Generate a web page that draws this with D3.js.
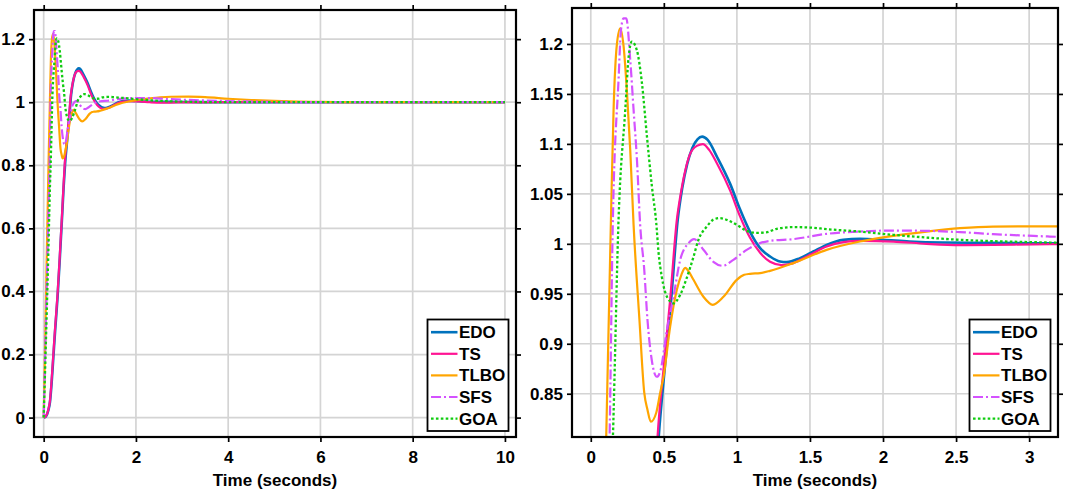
<!DOCTYPE html>
<html>
<head>
<meta charset="utf-8">
<script src="https://cdn.jsdelivr.net/npm/d3@7"></script>
<style>
body { margin: 0; background: #fff; }
text { font-family: "Liberation Sans", Arial, Helvetica, sans-serif; font-weight: bold; fill: #000; }
</style>
</head>
<body>
<svg id="chart" width="1065" height="492"></svg>
<script>
// Step responses, [time (s), output]
const edoData = [[0,0],[0.05,0.004],[0.1,0.023],[0.137,0.05],[0.17,0.105],[0.209,0.19],[0.25,0.28],[0.3,0.38],[0.35,0.505],[0.4,0.64],[0.43,0.725],[0.465,0.807],[0.508,0.878],[0.55,0.944],[0.595,1.024],[0.625,1.055],[0.66,1.08],[0.695,1.096],[0.73,1.1045],[0.762,1.1073],[0.8,1.104],[0.863,1.0873],[0.954,1.06],[1.02,1.035],[1.09,1.012],[1.159,0.9957],[1.227,0.9873],[1.295,0.9823],[1.341,0.9817],[1.432,0.9857],[1.523,0.9923],[1.614,0.999],[1.728,1.004],[1.842,1.005],[2.0,1.004],[2.18,1.0023],[2.41,1.0013],[2.75,1.001],[3.14,1.0005],[4,1],[6,1],[8,1],[10,1]];
const tsData = [[0,0],[0.05,0.005],[0.1,0.025],[0.137,0.055],[0.17,0.115],[0.209,0.2],[0.25,0.29],[0.3,0.39],[0.35,0.515],[0.4,0.65],[0.43,0.735],[0.457,0.807],[0.5,0.878],[0.543,0.944],[0.589,1.024],[0.612,1.047],[0.646,1.073],[0.68,1.09],[0.726,1.098],[0.767,1.0997],[0.81,1.094],[0.863,1.0807],[0.954,1.0533],[1.02,1.028],[1.09,1.006],[1.159,0.991],[1.227,0.982],[1.306,0.9787],[1.386,0.9807],[1.5,0.989],[1.614,0.9973],[1.728,1.0017],[1.842,1.003],[2.07,1.0023],[2.298,1.0],[2.526,0.9987],[2.753,0.999],[3.14,0.9997],[4,1],[6,1],[8,1],[10,1]];
const tlboData = [[0,0],[0.03,0.22],[0.06,0.46],[0.085,0.65],[0.106,0.809],[0.138,1.024],[0.156,1.134],[0.179,1.2],[0.202,1.2157],[0.225,1.197],[0.248,1.151],[0.27,1.094],[0.293,1.019],[0.333,0.924],[0.366,0.851],[0.388,0.834],[0.411,0.822],[0.448,0.831],[0.475,0.851],[0.498,0.867],[0.543,0.917],[0.589,0.954],[0.62,0.969],[0.646,0.976],[0.672,0.972],[0.703,0.964],[0.771,0.947],[0.835,0.939],[0.908,0.947],[0.999,0.964],[1.05,0.969],[1.09,0.97],[1.159,0.9707],[1.227,0.973],[1.386,0.9807],[1.614,0.994],[1.842,1.0023],[2.07,1.008],[2.298,1.0123],[2.526,1.0157],[2.753,1.0173],[3.14,1.0175],[3.5,1.016],[4,1.011],[4.5,1.007],[5,1.004],[5.5,1.002],[6,1.001],[7,1],[8,1],[10,1]];
const sfsData = [[0,0],[0.03,0.19],[0.06,0.38],[0.1,0.63],[0.129,0.809],[0.15,1.015],[0.191,1.167],[0.206,1.213],[0.224,1.2257],[0.243,1.2257],[0.27,1.184],[0.293,1.134],[0.316,1.084],[0.338,1.019],[0.366,0.974],[0.388,0.924],[0.417,0.884],[0.452,0.867],[0.475,0.872],[0.521,0.914],[0.566,0.947],[0.612,0.984],[0.669,1.0007],[0.707,1.0047],[0.771,0.994],[0.839,0.982],[0.903,0.978],[0.976,0.984],[1.067,0.994],[1.158,1.0007],[1.227,1.003],[1.386,1.0047],[1.614,1.01],[1.842,1.0123],[2.07,1.0133],[2.298,1.013],[2.526,1.0117],[2.753,1.0097],[3.14,1.0073],[3.5,1.0055],[4,1.0035],[5,1.001],[6,1],[8,1],[10,1]];
const goaData = [[0,0],[0.05,0.25],[0.1,0.52],[0.137,0.74],[0.152,0.809],[0.19,1.024],[0.236,1.134],[0.259,1.187],[0.281,1.2023],[0.315,1.194],[0.35,1.161],[0.384,1.108],[0.418,1.058],[0.448,1.021],[0.464,0.991],[0.486,0.967],[0.525,0.946],[0.566,0.9405],[0.612,0.949],[0.657,0.966],[0.703,0.987],[0.737,1.004],[0.794,1.0173],[0.84,1.0243],[0.881,1.0257],[0.94,1.0235],[0.999,1.019],[1.067,1.013],[1.135,1.011],[1.2,1.0115],[1.272,1.015],[1.386,1.0167],[1.5,1.0163],[1.614,1.0147],[1.842,1.0123],[2.07,1.009],[2.298,1.0063],[2.526,1.004],[2.753,1.0027],[3.14,1.0013],[4,1],[6,1],[8,1],[10,1]];

const seriesNames = ['EDO', 'TS', 'TLBO', 'SFS', 'GOA'];
const seriesData = [edoData, tsData, tlboData, sfsData, goaData];
const seriesColors = ['#0072bd', '#ff1493', '#ffa500', '#d452ff', '#10cc10'];
const seriesDash = [null, null, null, '10,3,2,3', '2.6,2.3'];
const seriesWidth = [2.6, 2.2, 2.2, 2.2, 2.3];

// Tick values
const leftXTicks = [0, 2, 4, 6, 8, 10];
const leftYTicks = [0, 0.2, 0.4, 0.6, 0.8, 1, 1.2];
const rightXTicks = [0, 0.5, 1, 1.5, 2, 2.5, 3];
const rightYTicks = [0.85, 0.9, 0.95, 1, 1.05, 1.1, 1.15, 1.2];

const xLabel = 'Time (seconds)';

const panels = [
    { left: 34, right: 516, top: 10, bottom: 437, xDomain: [-0.21, 10.24], yDomain: [-0.0615, 1.2924], xTicks: leftXTicks, yTicks: leftYTicks },
    { left: 572, right: 1058, top: 8, bottom: 437, xDomain: [-0.1285, 3.1975], yDomain: [0.8067, 1.236], xTicks: rightXTicks, yTicks: rightYTicks }
];

const svg = d3.select('#chart');

panels.forEach((p, i) => drawPanel(p, i));

function drawPanel(p, idx) {
    const x = d3.scaleLinear().domain(p.xDomain).range([p.left, p.right]);
    const y = d3.scaleLinear().domain(p.yDomain).range([p.bottom, p.top]);
    const g = svg.append('g');

    // clip for the curves
    const clipId = 'clip' + idx;
    svg.append('clipPath').attr('id', clipId)
        .append('rect')
        .attr('x', p.left).attr('y', p.top)
        .attr('width', p.right - p.left).attr('height', p.bottom - p.top);

    // grid
    g.selectAll('.vgrid').data(p.xTicks).enter().append('line')
        .attr('x1', d => x(d)).attr('x2', d => x(d))
        .attr('y1', p.top).attr('y2', p.bottom)
        .attr('stroke', '#d4d4d4').attr('stroke-width', 1.7);
    g.selectAll('.hgrid').data(p.yTicks).enter().append('line')
        .attr('x1', p.left).attr('x2', p.right)
        .attr('y1', d => y(d)).attr('y2', d => y(d))
        .attr('stroke', '#d4d4d4').attr('stroke-width', 1.7);

    // curves
    const line = d3.line().x(d => x(d[0])).y(d => y(d[1])).curve(d3.curveMonotoneX);
    const lines = g.append('g').attr('clip-path', `url(#${clipId})`);
    seriesData.forEach((data, k) => {
        lines.append('path')
            .datum(data)
            .attr('d', line)
            .attr('fill', 'none')
            .attr('stroke', seriesColors[k])
            .attr('stroke-width', seriesWidth[k])
            .attr('stroke-linejoin', 'round')
            .attr('stroke-dasharray', seriesDash[k]);
    });

    // axes, ticks pointing outward on all four sides
    const fmt = d => String(d);
    const bottomAxis = g.append('g').attr('transform', `translate(0,${p.bottom})`)
        .call(d3.axisBottom(x).tickValues(p.xTicks).tickFormat(fmt).tickSize(5).tickSizeOuter(0).tickPadding(9));
    const leftAxis = g.append('g').attr('transform', `translate(${p.left},0)`)
        .call(d3.axisLeft(y).tickValues(p.yTicks).tickFormat(fmt).tickSize(5).tickSizeOuter(0).tickPadding(4));
    const topAxis = g.append('g').attr('transform', `translate(0,${p.top})`)
        .call(d3.axisTop(x).tickValues(p.xTicks).tickFormat('').tickSize(5).tickSizeOuter(0));
    const rightAxis = g.append('g').attr('transform', `translate(${p.right},0)`)
        .call(d3.axisRight(y).tickValues(p.yTicks).tickFormat('').tickSize(5).tickSizeOuter(0));

    [bottomAxis, leftAxis, topAxis, rightAxis].forEach(a => {
        a.select('.domain').remove();
        a.selectAll('line').attr('stroke', '#000').attr('stroke-width', 1.7);
        a.selectAll('text')
            .attr('fill', '#000')
            .style('font-family', '"Liberation Sans", Arial, sans-serif')
            .style('font-weight', 'bold')
            .style('font-size', '17px');
    });

    // box
    g.append('rect')
        .attr('x', p.left).attr('y', p.top)
        .attr('width', p.right - p.left).attr('height', p.bottom - p.top)
        .attr('fill', 'none').attr('stroke', '#000').attr('stroke-width', 2.2);

    // x label
    g.append('text')
        .attr('x', (p.left + p.right) / 2)
        .attr('y', 486)
        .attr('text-anchor', 'middle')
        .style('font-size', '17px')
        .text(xLabel);

    // legend
    const lw = 81, lh = 111.5;
    const lx = p.right - 7.5 - lw, ly = p.bottom - 6 - lh;
    const leg = g.append('g');
    leg.append('rect')
        .attr('x', lx).attr('y', ly).attr('width', lw).attr('height', lh)
        .attr('fill', '#fff').attr('stroke', '#000').attr('stroke-width', 1.8);
    seriesNames.forEach((name, k) => {
        const yy = ly + 12.7 + k * 21.6;
        leg.append('line')
            .attr('x1', lx + 3.5).attr('x2', lx + 30)
            .attr('y1', yy).attr('y2', yy)
            .attr('stroke', seriesColors[k])
            .attr('stroke-width', seriesWidth[k])
            .attr('stroke-dasharray', seriesDash[k]);
        leg.append('text')
            .attr('x', lx + 31.5).attr('y', yy)
            .attr('dy', '0.35em')
            .style('font-size', '17px')
            .text(name);
    });
}
</script>
</body>
</html>
